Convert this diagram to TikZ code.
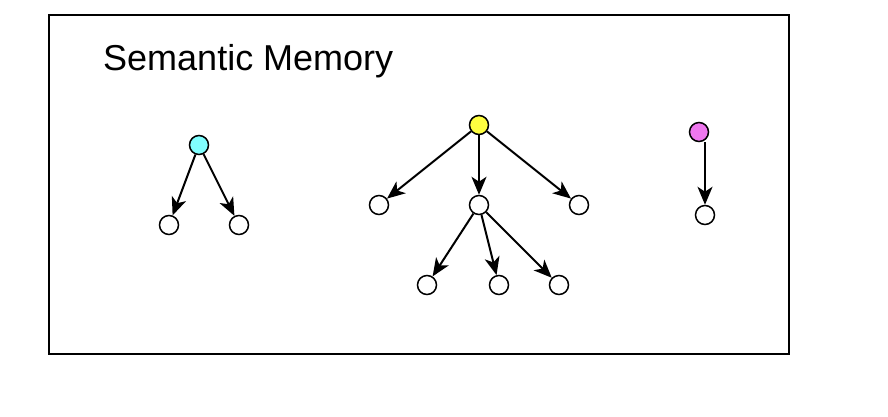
\documentclass[tikz,border=0pt]{standalone}
\usepackage{fontspec}
\setmainfont{Liberation Sans}
\usetikzlibrary{arrows.meta}
\definecolor{cyanfill}{RGB}{128,255,255}
\definecolor{yellowfill}{RGB}{255,255,64}
\definecolor{magfill}{RGB}{238,119,238}
\begin{document}
\begin{tikzpicture}[x=1pt,y=-1pt,
  dot/.style={circle,draw=black,line width=1.5pt,minimum size=19pt,inner sep=0pt,fill=white},
  link/.style={draw=black,line width=2pt,-{Stealth[length=18pt,width=15pt,inset=5pt]}}]
\useasboundingbox (0,0) rectangle (888,416);
\draw[line width=1.5pt] (49,15) rectangle (789,354);
\node[anchor=base west,inner sep=0pt,font=\fontsize{36}{42}\selectfont] (title) at (103,70) {Semantic Memory};
% left group
\node[dot,fill=cyanfill] (c) at (199,145) {};
\node[dot] (c1) at (169,225) {};
\node[dot] (c2) at (239,225) {};
\draw[link] (c) -- (c1);
\draw[link] (c) -- (c2);
% middle group
\node[dot,fill=yellowfill] (y) at (479,125) {};
\node[dot] (y1) at (379,205) {};
\node[dot] (y2) at (479,205) {};
\node[dot] (y3) at (579,205) {};
\node[dot] (g1) at (427,285) {};
\node[dot] (g2) at (499,285) {};
\node[dot] (g3) at (559,285) {};
\draw[link] (y) -- (y1);
\draw[link] (y) -- (y2);
\draw[link] (y) -- (y3);
\draw[link] (y2) -- (g1);
\draw[link] (y2) -- (g2);
\draw[link] (y2) -- (g3);
% right group
\node[dot,fill=magfill] (m) at (699,132) {};
\node[dot] (m1) at (705,215) {};
\draw[link] (m1 |- m.south) -- (m1);
\end{tikzpicture}
\end{document}
